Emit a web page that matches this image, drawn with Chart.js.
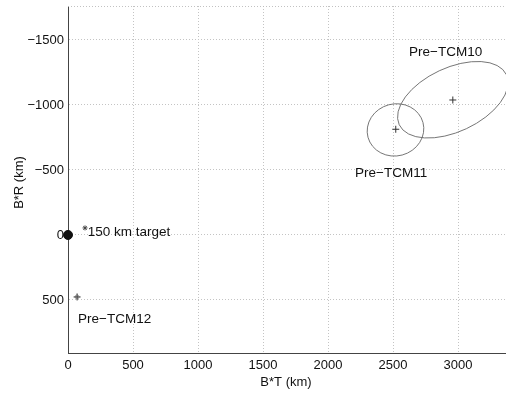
<!DOCTYPE html>
<html>
<head>
<meta charset="utf-8">
<script src="https://cdn.jsdelivr.net/npm/chart.js@4.4.0/dist/chart.umd.min.js"></script>
<style>
  html, body { margin: 0; padding: 0; background: #fff; }
  #wrap { width: 506px; height: 393px; position: relative; }
</style>
</head>
<body>
<div id="wrap"><canvas id="c" width="506" height="393"></canvas></div>
<script>
// ---- data (km) ----
const xTicks = [0, 500, 1000, 1500, 2000, 2500, 3000];
const yTicks = [-1500, -1000, -500, 0, 500];

const caseNames = ['Pre\u2212TCM10', 'Pre\u2212TCM11', 'Pre\u2212TCM12'];
const caseBT = [2960, 2521, 70];
const caseBR = [-1038, -813, 477];

// uncertainty ellipses: center, semi-axes (km), tilt (deg, as seen on plot)
const ellCenterBT = [2960, 2519];
const ellCenterBR = [-1040, -808];
const ellSemiMajor = [455, 219];
const ellSemiMinor = [246, 200];
const ellTilt = [-25, -15];

const targetBT = [0];
const targetBR = [0];
const targetMarkBT = [131];
const targetMarkBR = [-54];

// text labels (anchor = left edge, vertical middle)
const labelText = ['Pre\u2212TCM10', 'Pre\u2212TCM11', 'Pre\u2212TCM12', '150 km target'];
const labelBT = [2623, 2208, 77, 152];
const labelBR = [-1408, -477, 646, -23];

const FONT = '"Liberation Sans", Arial, Helvetica, sans-serif';

function fmt(v) { return v < 0 ? '\u2212' + Math.abs(v) : String(v); }

const overlay = {
  id: 'overlay',
  afterDatasetsDraw(chart) {
    const { ctx, chartArea: a, scales: { x, y } } = chart;
    ctx.save();
    // ellipses
    ctx.strokeStyle = '#666';
    ctx.lineWidth = 0.9;
    for (let i = 0; i < ellCenterBT.length; i++) {
      const cx = x.getPixelForValue(ellCenterBT[i]);
      const cy = y.getPixelForValue(ellCenterBR[i]);
      const rx = Math.abs(x.getPixelForValue(ellCenterBT[i] + ellSemiMajor[i]) - x.getPixelForValue(ellCenterBT[i]));
      const ry = Math.abs(x.getPixelForValue(ellCenterBT[i] + ellSemiMinor[i]) - x.getPixelForValue(ellCenterBT[i]));
      ctx.beginPath();
      ctx.ellipse(cx, cy, rx, ry, ellTilt[i] * Math.PI / 180, 0, Math.PI * 2);
      ctx.stroke();
    }
    // labels
    ctx.fillStyle = '#111';
    ctx.font = '13.5px ' + FONT;
    ctx.textBaseline = 'middle';
    ctx.textAlign = 'left';
    for (let i = 0; i < labelText.length; i++) {
      ctx.fillText(labelText[i], x.getPixelForValue(labelBT[i]), y.getPixelForValue(labelBR[i]));
    }
    // top dotted frame
    ctx.strokeStyle = '#bbb';
    ctx.setLineDash([1, 2]);
    ctx.beginPath();
    ctx.moveTo(a.left, a.top + 0.5);
    ctx.lineTo(a.right, a.top + 0.5);
    ctx.stroke();
    ctx.setLineDash([]);
    // axis titles
    ctx.fillStyle = '#111';
    ctx.font = '13px ' + FONT;
    ctx.textAlign = 'center';
    ctx.fillText('B*T (km)', 286, 382);
    ctx.translate(19, (a.top + a.bottom) / 2 + 3);
    ctx.rotate(-Math.PI / 2);
    ctx.fillText('B*R (km)', 0, 0);
    ctx.restore();
  }
};

const pts = (xs, ys) => xs.map((v, i) => ({ x: v, y: ys[i] }));

new Chart(document.getElementById('c'), {
  type: 'scatter',
  data: {
    datasets: [
      { label: 'target', data: pts(targetBT, targetBR), pointStyle: 'circle', pointRadius: 4.5,
        backgroundColor: '#111', borderColor: '#111', borderWidth: 1, clip: false },
      { label: 'targetMark', data: pts(targetMarkBT, targetMarkBR), pointStyle: 'star', pointRadius: 2.5,
        backgroundColor: '#444', borderColor: '#444', borderWidth: 1 },
      { label: 'cases', data: pts(caseBT, caseBR), pointStyle: 'cross', pointRadius: 3.5,
        borderColor: '#333', borderWidth: 1 },
      { label: 'tcm12', data: pts(caseBT.slice(2), caseBR.slice(2)), pointStyle: 'circle', pointRadius: 2,
        backgroundColor: 'rgba(0,0,0,0)', borderColor: '#888', borderWidth: 0.8 }
    ]
  },
  options: {
    responsive: false,
    animation: false,
    events: [],
    layout: { autoPadding: false, padding: { top: 6, right: 0, left: 0, bottom: 0 } },
    plugins: { legend: { display: false }, tooltip: { enabled: false } },
    scales: {
      x: {
        type: 'linear', min: 0, max: 3369,
        afterBuildTicks: s => { s.ticks = xTicks.map(v => ({ value: v })); },
        afterFit: s => { s.height = 40; s.paddingLeft = 0; s.paddingRight = 0; },
        ticks: { callback: v => fmt(v), color: '#111', font: { family: FONT, size: 13 }, padding: 5, maxRotation: 0, autoSkip: false },
        grid: { color: '#c4c4c4', lineWidth: 1, drawTicks: false },
        border: { display: true, color: '#444', width: 1, dash: [1, 2] }
      },
      y: {
        type: 'linear', reverse: true, min: -1761, max: 908,
        afterBuildTicks: s => { s.ticks = yTicks.map(v => ({ value: v })); },
        afterFit: s => { s.width = 68; s.paddingTop = 0; s.paddingBottom = 0; },
        ticks: { callback: v => fmt(v), color: '#111', font: { family: FONT, size: 13 }, padding: 4, autoSkip: false },
        grid: { color: '#c4c4c4', lineWidth: 1, drawTicks: false },
        border: { display: true, color: '#444', width: 1, dash: [1, 2] }
      }
    }
  },
  plugins: [overlay]
});
</script>
</body>
</html>
